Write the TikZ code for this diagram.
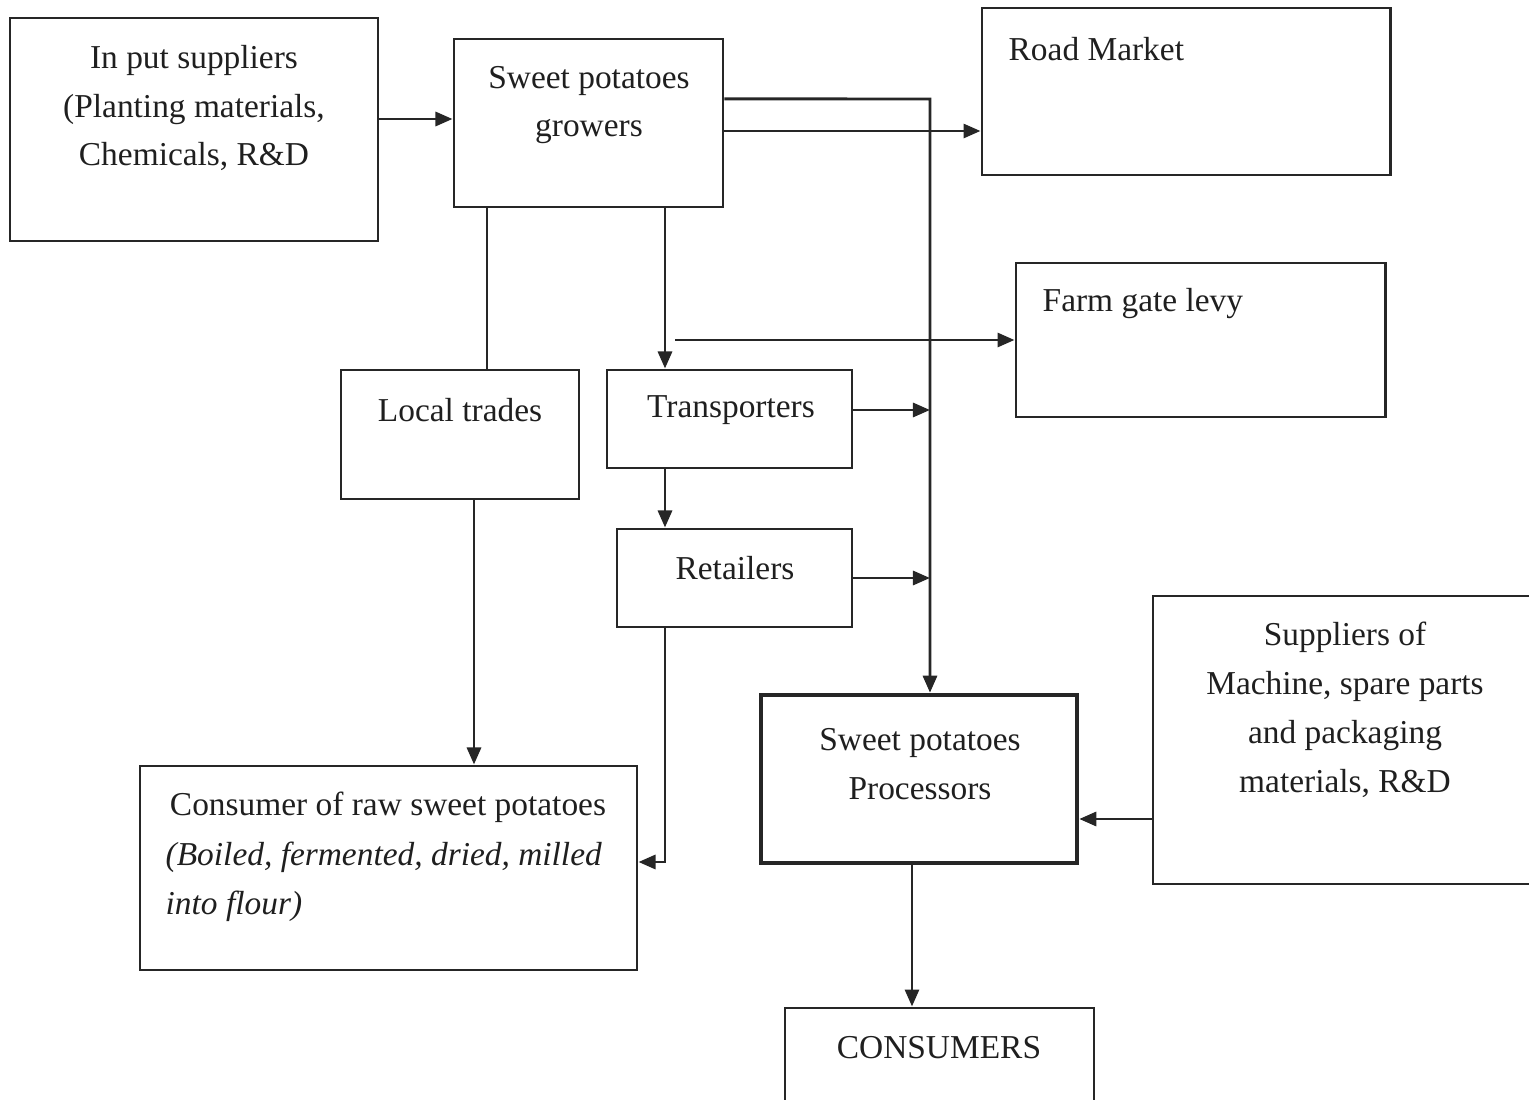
\documentclass[tikz,border=0pt]{standalone}
\usepackage{fontspec}
\setmainfont{Liberation Serif}
\usetikzlibrary{arrows.meta}
\usetikzlibrary{fit}
\usetikzlibrary{positioning}

\tikzset{
  box/.style={draw=black!85, line width=0.85pt, inner sep=0pt, rectangle},
  txt/.style={font=\fontsize{9.5}{13.9}\selectfont, text=black!88, inner sep=0pt, align=center},
  arr/.style={-{Triangle[length=0.17cm,width=0.14cm]}},
  link/.style={draw=black!85, line width=0.85pt}
}

\begin{document}
\begin{tikzpicture}[x=0.01cm,y=-0.01cm]
    \useasboundingbox (0,0) rectangle (1529,1100);

    % boxes
    \node[box, fit={(10,18) (378,241)}] (input) {};
    \node[box, fit={(454,39) (723,207)}] (grow) {};
    \node[box, fit={(982,8) (1390,175)}] (road) {};
    \node[box, fit={(1016,263) (1385,417)}] (levy) {};
    \node[box, fit={(341,370) (579,499)}] (local) {};
    \node[box, fit={(607,370) (852,468)}] (trans) {};
    \node[box, fit={(617,529) (852,627)}] (retail) {};
    \node[box, line width=1.3pt, fit={(761,695) (1077,863)}] (proc) {};
    \node[box, fit={(1153,596) (1535,884)}] (supp) {};
    \node[box, fit={(140,766) (637,970)}] (raw) {};
    \node[box, fit={(785,1008) (1094,1106)}] (cons) {};

    % texts
    \node[txt] (input text) at (194,108) {In put suppliers\\(Planting materials,\\Chemicals, R\&D};
    \node[txt] (grow text) at (589,105) {Sweet potatoes\\growers};
    \node[txt, anchor=west] (road text) at (1008,49) {Road Market};
    \node[txt, anchor=west] (levy text) at (1042,304) {Farm gate levy};
    \node[txt] (local text) at (460,410) {Local trades};
    \node[txt] (trans text) at (731,410) {Transporters};
    \node[txt] (retail text) at (735,568) {Retailers};
    \node[txt] (proc text) at (920,764) {Sweet potatoes\\Processors};
    \node[txt] (supp text) at (1345,710) {Suppliers of\\Machine, spare parts\\and packaging\\materials, R\&D};
    \node[txt] (raw text) at (388,807) {Consumer of raw sweet potatoes};
    \node[txt, align=left, anchor=west] (raw note) at (165,882)
        {\itshape (Boiled,\  fermented,\  dried,\  milled\\\itshape into flour)};
    \node[txt] (cons text) at (939,1048) {CONSUMERS};

    % helper coordinates
    \coordinate (g0) at ([yshift=0.04cm]grow.west);
    \coordinate (g1) at ([yshift=-0.08cm]grow.east);
    \coordinate (g2) at ([yshift=0.24cm]grow.east);
    \coordinate (bus) at (930,99);
    \coordinate (gl) at (487,0);
    \coordinate (tx) at (665,0);
    \coordinate (lr) at (474,0);
    \coordinate (lv) at (675,340);
    \coordinate (t1) at ([yshift=0.09cm]trans.east);
    \coordinate (r1) at ([yshift=0.06cm]raw.east);
    \coordinate (sp) at (0,819);
    \coordinate (pc) at (912,0);

    % connectors
    \draw[link, arr] (input.east |- g0) -- (g0);
    \draw[link, arr] (g1) -- (g1 -| road.west);
    \draw[link, arr] (g2) -- (bus) -- (bus |- proc.north);
    \draw[link] (gl |- grow.south) -- (gl |- local.north);
    \draw[link, arr] (tx |- grow.south) -- (tx |- trans.north);
    \draw[link, arr] (lv) -- (levy.west);
    \draw[link, arr] (t1) -- (t1 -| bus);
    \draw[link, arr] (tx |- trans.south) -- (tx |- retail.north);
    \draw[link, arr] (retail.east) -- (retail.east -| bus);
    \draw[link, arr] (lr |- local.south) -- (lr |- raw.north);
    \draw[link, arr] (tx |- retail.south) -- (tx |- r1) -- (r1);
    \draw[link, arr] (sp -| supp.west) -- (sp -| proc.east);
    \draw[link, arr] (pc |- proc.south) -- (pc |- cons.north);
\end{tikzpicture}
\end{document}
